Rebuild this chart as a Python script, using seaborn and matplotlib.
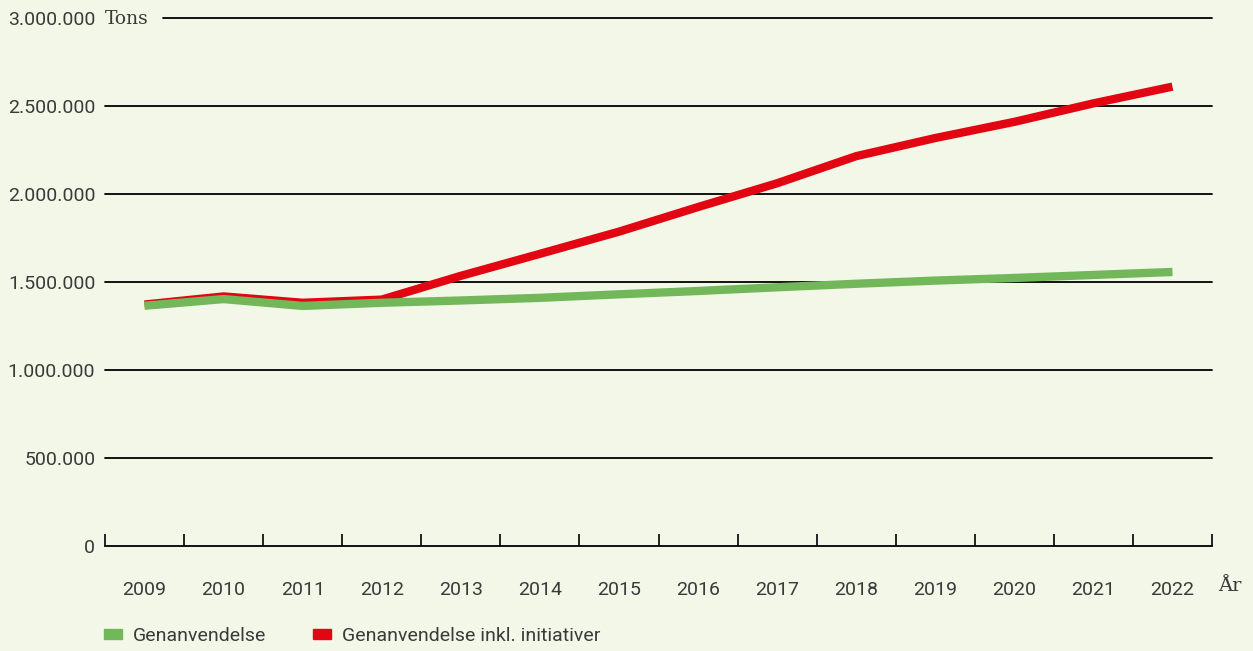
import pandas as pd
import matplotlib.pyplot as plt
import matplotlib.patches as mpatches
import seaborn as sns

# data
aar = [2009, 2010, 2011, 2012, 2013, 2014, 2015, 2016, 2017, 2018, 2019, 2020, 2021, 2022]
genanvendelse = [1365000, 1403000, 1364000, 1382000, 1395000, 1410000, 1430000,
                 1449000, 1470000, 1490000, 1508000, 1523000, 1540000, 1557000]
inkl_initiativer = [1372000, 1418000, 1382000, 1400000, 1535000, 1660000, 1786000,
                    1926000, 2061000, 2215000, 2318000, 2410000, 2515000, 2610000]
y_ticks = [0, 500000, 1000000, 1500000, 2000000, 2500000, 3000000]
y_labels = ['0', '500.000', '1.000.000', '1.500.000', '2.000.000', '2.500.000', '3.000.000']

bg = '#f3f7e8'
groen = '#72b85a'
roed = '#e20613'
tekst = '#3a3a3a'

df = pd.DataFrame({'pos': range(len(aar)), 'aar': aar,
                   'gen': genanvendelse, 'inkl': inkl_initiativer})

sns.set_style('white')
plt.rcParams['font.family'] = ['Roboto', 'DejaVu Sans']

fig = plt.figure(figsize=(12.53, 6.51), dpi=100, facecolor=bg)
ax = fig.add_axes([105 / 1253, 105 / 651, 1107 / 1253, 528 / 651])
ax.set_facecolor(bg)

# gitterlinjer
for v in y_ticks[1:]:
    xmin = 0.052 if v == 3000000 else 0
    ax.axhline(v, xmin=xmin, xmax=1, color='black', lw=1.3, zorder=1, clip_on=False)

sns.lineplot(data=df, x='pos', y='inkl', color=roed, lw=6, ax=ax, zorder=3,
             solid_capstyle='butt', solid_joinstyle='miter')
sns.lineplot(data=df, x='pos', y='gen', color=groen, lw=6, ax=ax, zorder=4,
             solid_capstyle='butt', solid_joinstyle='miter')

ax.set_xlim(-0.5, len(aar) - 0.5)
ax.set_ylim(0, 3000000)
for s in ['top', 'right', 'left']:
    ax.spines[s].set_visible(False)
ax.spines['bottom'].set_color('black')
ax.spines['bottom'].set_linewidth(1.3)

ax.set_yticks(y_ticks)
ax.set_yticklabels(y_labels, fontsize=14, color=tekst)
ax.tick_params(axis='y', left=False, length=0, pad=7)

# tick marks between years, labels centered in each band
ax.set_xticks([i - 0.5 for i in range(len(aar) + 1)])
ax.set_xticklabels([])
ax.tick_params(axis='x', which='major', bottom=True, direction='in', length=9,
               width=1.2, color='black')
ax.set_xticks(df['pos'], minor=True)
ax.set_xticklabels([str(a) for a in aar], minor=True, fontsize=14, color=tekst)
ax.tick_params(axis='x', which='minor', bottom=True, length=0, pad=25)
ax.set_xlabel('')
ax.set_ylabel('')

fig.text(105 / 1253, 1 - 19 / 651, 'Tons', fontsize=13.5, color=tekst,
         family=['DejaVu Serif'], va='center', ha='left')
fig.text(1218 / 1253, 1 - 586 / 651, 'År', fontsize=14, color=tekst,
         family=['DejaVu Serif'], va='center', ha='left')

handles = [mpatches.Patch(color=groen, label='Genanvendelse'),
           mpatches.Patch(color=roed, label='Genanvendelse inkl. initiativer')]
fig.legend(handles=handles, loc='center left', bbox_to_anchor=(86 / 1253, 1 - 636 / 651),
           ncol=2, frameon=False, fontsize=14, handlelength=0.95, handleheight=0.45,
           columnspacing=2.4, handletextpad=0.55, labelcolor=tekst)

fig.savefig('out.png', dpi=100, facecolor=bg)
